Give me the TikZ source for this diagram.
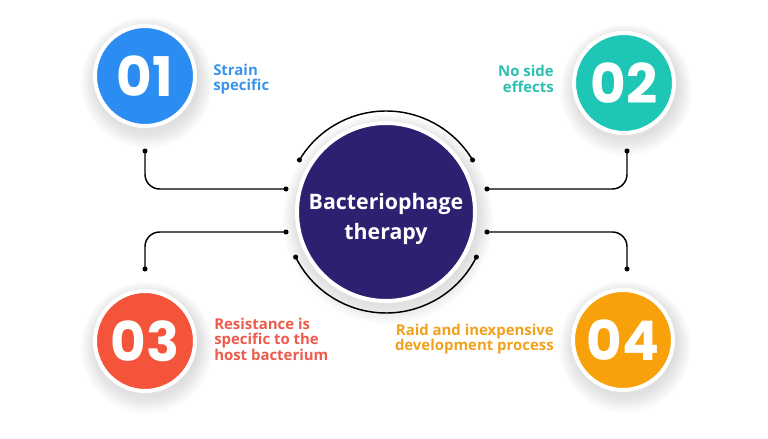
\documentclass[tikz,border=0pt]{standalone}
\usepackage{fontspec}
\setmainfont{Open Sans}
\newfontfamily\numfont{Poppins}
\usetikzlibrary{calc}

\definecolor{discA}{HTML}{2B8DF2}
\definecolor{discB}{HTML}{1EC6B6}
\definecolor{discC}{HTML}{F4553A}
\definecolor{discD}{HTML}{F8A10B}
\definecolor{hubfill}{HTML}{2D2070}
\definecolor{textA}{HTML}{3A94E8}
\definecolor{textB}{HTML}{2DBFB0}
\definecolor{textC}{HTML}{EC5B4B}
\definecolor{textD}{HTML}{F0A21C}
\definecolor{shade}{HTML}{A8B6DA}

\begin{document}
\begin{tikzpicture}[x=0.75pt,y=0.75pt,
  numdisc/.style={circle,draw=white,line width=3pt,minimum size=75pt,inner sep=0pt,
    text=white,font=\numfont\bfseries\fontsize{41}{41}\selectfont},
  infotext/.style={font=\bfseries\fontsize{11.2}{11.6}\selectfont,inner sep=0pt},
  link/.style={line width=1.1pt,rounded corners=11pt},
  dot/.style={circle,fill=black,inner sep=0pt,minimum size=3.8pt}]

\useasboundingbox (0,0) rectangle (768,439);

% ---------- parameters ----------
\def\ringR{75.75pt}  % outer arcs round the hub

% ---------- soft shadows ----------
\foreach \cx/\cy/\rr in {145/363/52,624/356/52,145/98/52,623/99/52,386/227/91}{
  \foreach \k in {1,...,10}
    \fill[shade,opacity=0.012] (\cx+2,\cy-7) circle ({\rr-4+\k*1.8});
}

% ---------- hub ----------
\node[circle,draw=white,line width=3pt,fill=hubfill,minimum size=133.5pt] (hub) at (386,227) {};
\node[text=white,align=center,font=\bfseries\fontsize{16}{23}\selectfont] (title)
  at (386,220) {Bacteriophage\\therapy};

% arcs round the hub
\coordinate (arcTL) at ($(hub.center)+(149:\ringR)$);
\coordinate (arcTR) at ($(hub.center)+(31:\ringR)$);
\coordinate (arcBL) at ($(hub.center)+(206.5:\ringR)$);
\coordinate (arcBR) at ($(hub.center)+(333.5:\ringR)$);
\draw[link] (arcTL) arc[start angle=149,end angle=31,radius=\ringR];
\draw[link] (arcBL) arc[start angle=206.5,end angle=333.5,radius=\ringR];

% ---------- number discs ----------
\node[numdisc,fill=discA] (n1) at (145,363) {01};
\node[numdisc,fill=discB] (n2) at (624,356) {02};
\node[numdisc,fill=discC] (n3) at (145,98) {03};
\node[numdisc,fill=discD] (n4) at (623,99) {04};

% ---------- connectors ----------
\coordinate (ulIn) at (286,250);  \coordinate (ulOut) at (145,288);
\coordinate (urIn) at (487,250);  \coordinate (urOut) at (627,288);
\coordinate (llIn) at (286,207);  \coordinate (llOut) at (145,170);
\coordinate (lrIn) at (487,207);  \coordinate (lrOut) at (627,170);
\draw[link] (ulIn) -| (ulOut);
\draw[link] (urIn) -| (urOut);
\draw[link] (llIn) -| (llOut);
\draw[link] (lrIn) -| (lrOut);
\foreach \p in {ulIn,ulOut,urIn,urOut,llIn,llOut,lrIn,lrOut,arcTL,arcTR,arcBL,arcBR}
  \node[dot] at (\p) {};

% ---------- texts ----------
\node[infotext,text=textA,anchor=west,align=left] (t1) at (213,360) {Strain\\specific};
\node[infotext,text=textB,anchor=east,align=right] (t2) at (554,360) {No side\\effects};
\node[infotext,text=textC,anchor=west,align=left] (t3) at (214,100)
  {Resistance is\\specific to the\\host bacterium};
\node[infotext,text=textD,anchor=east,align=right] (t4) at (554,100)
  {Raid and inexpensive\\development process};

\end{tikzpicture}
\end{document}
